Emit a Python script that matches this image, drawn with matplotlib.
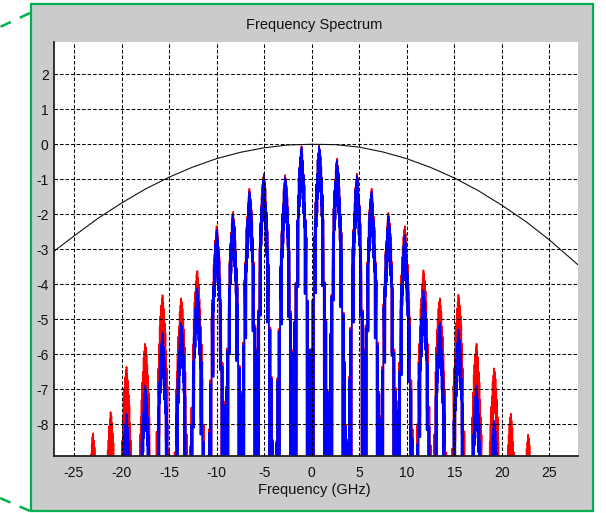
import numpy as np
import matplotlib
matplotlib.use("Agg")
import matplotlib.pyplot as plt
from matplotlib.patches import Rectangle
from matplotlib.lines import Line2D

plt.rcParams['font.family'] = ['Liberation Sans', 'DejaVu Sans']
plt.rcParams['axes.unicode_minus'] = False

# comb lines of the spectrum (GHz) and the top of each line (red / blue trace)
peak_ghz = [-22.97, -21.16, -19.46, -17.53, -15.67, -13.74, -12.01, -10.01, -8.24, -6.56,
            -5.01, -2.80, -1.05, 0.77, 2.70, 4.74, 6.32, 8.06, 9.82, 11.75,
            13.50, 15.43, 17.36, 19.18, 20.97, 22.76]
red_top = [-8.26, -7.65, -6.36, -5.70, -4.31, -4.40, -3.62, -2.34, -1.93, -1.27,
           -0.84, -0.88, -0.06, -0.04, -0.41, -0.84, -1.27, -1.96, -2.34, -3.60,
           -4.40, -4.30, -5.70, -6.40, -7.70, -8.30]
blue_top = [-15.0, -15.0, -7.70, -6.90, -5.40, -5.10, -4.10, -2.45, -2.00, -1.35,
            -0.90, -0.95, -0.08, -0.06, -0.46, -0.90, -1.35, -2.05, -2.60, -4.17,
            -5.10, -5.30, -6.90, -7.90, -15.0, -15.0]

# fine structure of one comb line: offset from the line (GHz), drop below its top
shape_off = [-0.92, -0.91, -0.90,
             -0.78, -0.77, -0.76,
             -0.65, -0.64, -0.63,
             -0.53, -0.50, -0.46, -0.42, -0.39, -0.35, -0.31, -0.27, -0.24, -0.20,
             -0.16, -0.12, -0.09, -0.05, -0.01, 0.02, 0.06, 0.10, 0.14, 0.17,
             0.21, 0.25, 0.29, 0.32, 0.36, 0.40, 0.44, 0.47, 0.51, 0.54,
             0.66, 0.67, 0.68,
             0.79, 0.80, 0.81,
             0.90, 0.91, 0.92]
shape_drop = [14.0, 7.0, 14.0,
              14.0, 5.0, 14.0,
              14.0, 3.9, 14.0,
              14.0, 3.2, 2.1, 2.9, 1.4, 4.0, 0.9, 2.0, 0.6, 1.7,
              0.3, 1.3, 0.1, 0.9, 0.0, 1.1, 0.2, 1.5, 0.4, 1.9,
              0.8, 2.3, 1.1, 4.2, 1.6, 3.1, 2.1, 3.5, 2.6, 14.0,
              14.0, 4.4, 14.0,
              14.0, 5.8, 14.0,
              14.0, 7.6, 14.0]

# envelope (black curve)
env_x = [-27.07, -25.0, -22.5, -20.0, -17.5, -15.0, -12.5, -10.0, -7.5, -5.0, -2.5, 0.0,
         2.5, 5.0, 7.5, 10.0, 12.5, 15.0, 17.5, 20.0, 22.5, 25.0, 28.05]
env_y = [-3.05, -2.62, -2.12, -1.68, -1.28, -0.94, -0.65, -0.41, -0.23, -0.10, -0.02, 0.0,
         -0.01, -0.08, -0.22, -0.41, -0.66, -0.96, -1.32, -1.74, -2.20, -2.73, -3.45]

xticks = [-25, -20, -15, -10, -5, 0, 5, 10, 15, 20, 25]
yticks = [-8, -7, -6, -5, -4, -3, -2, -1, 0, 1, 2]


def build_trace(tops):
    xs, ys = [], []
    for i, (c, top) in enumerate(zip(peak_ghz, tops)):
        if i % 2 == 0:
            offs, drops = shape_off, shape_drop
        else:
            offs = [-o for o in reversed(shape_off)]
            drops = list(reversed(shape_drop))
        for o, d in zip(offs, drops):
            xs.append(c + o)
            ys.append(top - d)
    return np.array(xs), np.array(ys)


W, H = 606, 513
fig = plt.figure(figsize=(W / 100, H / 100), dpi=100, facecolor='white')

# grey panel with green frame
panel = Rectangle((30.5 / W, 1 - 511 / H), 562 / W, 507 / H, transform=fig.transFigure,
                  facecolor='#cbcbcb', edgecolor='#00b050', lw=1.6, zorder=0)
fig.add_artist(panel)
fig.add_artist(Line2D([30 / W, 0], [1 - 13 / H, 1 - 27 / H], transform=fig.transFigure,
                      color='#00b050', lw=1.8, dashes=(4.5, 4.0)))
fig.add_artist(Line2D([30 / W, 0], [1 - 511 / H, 1 - 498 / H], transform=fig.transFigure,
                      color='#00b050', lw=1.8, dashes=(4.5, 4.0)))

ax = fig.add_axes([54.3 / W, 1 - 456 / H, 524 / W, 413.7 / H])
ax.set_facecolor('white')

rx, ry = build_trace(red_top)
bx, by = build_trace(blue_top)
ax.plot(rx, ry, color='#ff0000', lw=1.2, zorder=2)
ax.plot(bx, by, color='#0000ff', lw=1.2, zorder=2.1)
ax.plot(env_x, env_y, color='#111111', lw=0.8, zorder=3)

ax.set_xlim(-27.07, 28.05)
ax.set_ylim(-8.906, 2.914)
ax.set_xticks(xticks)
ax.set_yticks(yticks)
ax.set_axisbelow(False)
ax.grid(True, color='black', lw=0.75, dashes=(3.4, 1.9))
ax.tick_params(length=0, labelsize=10, colors='#111111')
ax.tick_params(axis='x', pad=7)
ax.tick_params(axis='y', pad=4)
for side in ['top', 'right']:
    ax.spines[side].set_visible(False)
for side in ['left', 'bottom']:
    ax.spines[side].set_linewidth(1.3)
    ax.spines[side].set_color('#222222')

fig.text(314 / W, 1 - 24.5 / H, 'Frequency Spectrum', ha='center', va='center',
         fontsize=10.5, color='#111111')
fig.text(314 / W, 1 - 490 / H, 'Frequency (GHz)', ha='center', va='center',
         fontsize=10.5, color='#111111')

fig.savefig('out.png', dpi=100, facecolor='white')
